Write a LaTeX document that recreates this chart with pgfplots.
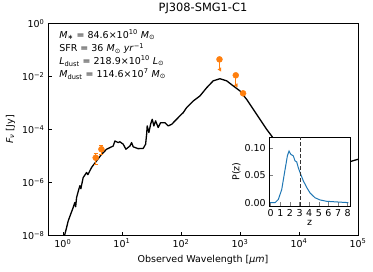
\documentclass[border=0pt]{standalone}
\usepackage{pgfplots}
\pgfplotsset{compat=1.18}
\usepackage{fontspec}
\setmainfont{DejaVu Sans}
\usetikzlibrary{calc}
\definecolor{cone}{HTML}{FF7F0E}
\definecolor{czero}{HTML}{1F77B4}
\newcommand{\fs}{\fontsize{9.5}{11}\selectfont}
\newcommand{\sun}{\textsubscript{⊙}}
\begin{document}
\begin{tikzpicture}
\begin{loglogaxis}[name=main, scale only axis, width=310pt, height=212pt,
  xmin=0.56, xmax=1e5, ymin=1e-8, ymax=1,
  log basis x=10, log basis y=10,
  axis line style={line width=0.8pt},
  tick align=inside, xtick pos=left, ytick pos=left,
  xtick={1,10,100,1000,10000,100000},
  ytick={1e-8,1e-6,1e-4,1e-2,1},
  yminorticks=false,
  major tick length=4pt, minor tick length=2pt,
  every tick/.style={black, line width=0.6pt},
  tick label style={font=\fs},
  xticklabel={\pgfmathtruncatemacro{\e}{round(\tick)}10\textsuperscript{\e}},
  yticklabel={\pgfmathtruncatemacro{\e}{round(\tick)}\pgfmathtruncatemacro{\ae}{abs(\e)}10\textsuperscript{\ifnum\e<0 −\fi\ae}},
  title={PJ308-SMG1-C1}, title style={font=\fontsize{11.4}{13}\selectfont},
  xlabel={Observed Wavelength [\textit{μm}]}, xlabel style={font=\fs},
  ylabel={\textit{F}\textsubscript{\textit{ν}} [Jy]}, ylabel style={font=\fs},
  clip=true]
\addplot[black, line width=1.3pt, line join=round] coordinates {
(1.02,3.5e-9) (1.081,1.12e-8) (1.156,2.0e-8) (1.230,3.55e-8) (1.352,6.31e-8)
(1.496,1.15e-7) (1.596,1.78e-7) (1.648,1.23e-7) (1.706,2.69e-7) (1.816,4.57e-7)
(1.941,7.59e-7) (2.018,5.89e-7) (2.208,1.55e-6) (2.523,2.40e-6) (2.655,2.0e-6)
(3.062,3.72e-6) (3.724,6.61e-6) (4.529,1.17e-5) (5.508,1.82e-5) (7.129,2.40e-5)
(7.603,3.72e-5) (8.650,3.24e-5) (9.247,3.47e-5) (10.52,2.82e-5) (11.70,1.82e-5)
(13.68,2.40e-5) (14.59,3.24e-5) (15.56,2.24e-5) (18.88,1.91e-5) (22.96,1.95e-5)
(25.23,2.82e-5) (26.24,6.61e-5) (26.85,1.38e-4) (28.71,7.76e-5) (30.62,1.58e-4)
(32.66,2.45e-4) (34.83,1.38e-4) (37.24,2.14e-4) (41.21,1.20e-4) (45.29,1.82e-4)
(53.58,1.82e-4) (60.95,1.38e-4) (69.50,1.58e-4) (84.53,2.45e-4) (96.16,3.31e-4)
(109.4,4.37e-4) (125.0,6.76e-4) (161.4,1.20e-3) (209.9,1.86e-3) (272.9,3.80e-3)
(352.4,6.92e-3) (458.1,8.32e-3) (595.7,6.92e-3) (769.1,4.47e-3) (1000,2.88e-3)
(1300,1.38e-3) (1679,5.89e-4) (2183,2.45e-4) (2838,1.02e-4) (3443,5.75e-5)
(5012,1.78e-5) (7943,5.0e-6) (12590,2.0e-6) (19950,1.78e-6) (35480,3.55e-6)
(73110,6.17e-6) (100000,7.59e-6)
};
% photometric detections
\addplot[cone, only marks, mark=*, mark size=3pt,
  error bars/.cd, y dir=both, y explicit, error bar style={cone, line width=1pt},
  error mark options={cone, line width=1pt, mark size=2pt, rotate=90}]
  coordinates {
(3.6,8.7e-6) +- (0,4.0e-6)
(4.5,1.82e-5) +- (0,7.0e-6)
(1130,2.34e-3) +- (0,1.0e-4)
};
% upper limits
\addplot[cone, only marks, mark=*, mark size=3pt,
  error bars/.cd, y dir=minus, y explicit, error bar style={cone, line width=1pt},
  error mark=triangle*, error mark options={cone, mark size=2pt, rotate=180}]
  coordinates {
(450,0.0447) -= (0,0.0261)
(850,0.0112) -= (0,0.00652)
};
\node[anchor=base west, font=\fs, inner sep=0pt] at (rel axis cs:0.036,0.929) {\textit{M}\textsubscript{∗} = 84.6×10\textsuperscript{10} \textit{M}\sun};
\node[anchor=base west, font=\fs, inner sep=0pt] at (rel axis cs:0.036,0.8665) {SFR = 36 \textit{M}\sun{} \textit{yr}\textsuperscript{−1}};
\node[anchor=base west, font=\fs, inner sep=0pt] at (rel axis cs:0.036,0.8066) {\textit{L}\textsubscript{dust} = 218.9×10\textsuperscript{10} \textit{L}\sun};
\node[anchor=base west, font=\fs, inner sep=0pt] at (rel axis cs:0.036,0.745) {\textit{M}\textsubscript{dust} = 114.6×10\textsuperscript{7} \textit{M}\sun};
\end{loglogaxis}
\begin{axis}[at={($(main.south west)+(221.3pt,29.7pt)$)}, anchor=south west,
  scale only axis, width=80.7pt, height=69pt,
  xmin=-0.15, xmax=8.24, ymin=-0.006, ymax=0.121,
  axis background/.style={fill=white},
  axis line style={line width=0.8pt},
  tick align=inside, xtick pos=left, ytick pos=left,
  xtick={0,1,2,3,4,5,6,7,8}, ytick={0,0.05,0.1},
  major tick length=4pt,
  every tick/.style={black!50, line width=0.6pt},
  tick label style={font=\fs},
  yticklabel style={/pgf/number format/.cd, fixed, fixed zerofill, precision=2, assume math mode=true},
  xticklabel style={/pgf/number format/assume math mode=true},
  xlabel={z}, ylabel={P(z)}, label style={font=\fs},
  xlabel style={yshift=3pt}, ylabel style={yshift=-3pt}]
\addplot[czero, line width=1pt] coordinates {
(-0.07,0.0) (0.45,0.0) (0.79,0.006) (1.14,0.024) (1.49,0.061) (1.73,0.086)
(1.90,0.095) (2.08,0.089) (2.35,0.086) (2.52,0.077) (2.70,0.075) (2.87,0.064)
(3.12,0.052) (3.39,0.040) (3.74,0.028) (4.08,0.018) (4.60,0.009) (5.12,0.005)
(5.8,0.0025) (6.86,0.0013) (8.07,0.0)
};
\addplot[black!80, dashed, line width=1.2pt, dash pattern=on 4pt off 2pt] coordinates {(3.12,-0.006) (3.12,0.121)};
\end{axis}
\path[use as bounding box] ([xshift=-48pt,yshift=-36pt]main.south west) rectangle ([xshift=325pt,yshift=233pt]main.south west);
\end{tikzpicture}
\end{document}
